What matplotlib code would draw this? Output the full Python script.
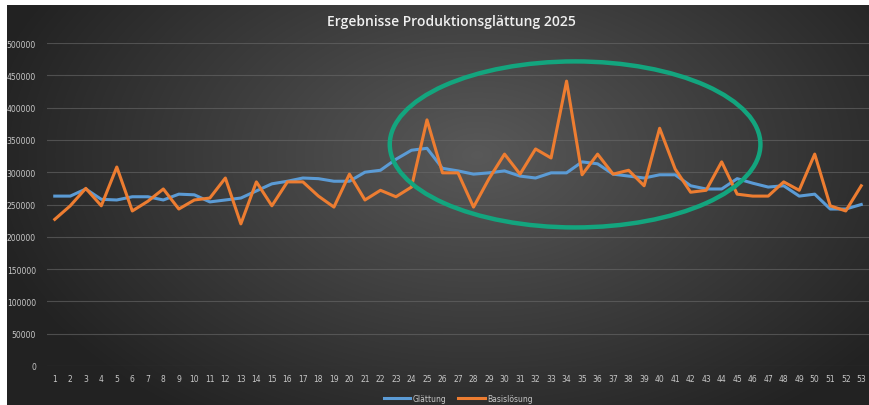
import numpy as np
import matplotlib.pyplot as plt
from matplotlib.patches import Ellipse

weeks = list(range(1, 54))

glaettung = [263000, 263000, 274000, 258000, 257000, 262000, 262000, 257000, 266000, 265000,
             254000, 257000, 260000, 271000, 282000, 286000, 291000, 290000, 286000, 286000,
             300000, 303000, 320000, 334000, 337000, 306000, 302000, 297000, 299000, 302000,
             294000, 291000, 299000, 299000, 316000, 313000, 297000, 294000, 291000, 296000,
             296000, 279000, 274000, 274000, 290000, 283000, 277000, 279000, 263000, 266000,
             243000, 243000, 250000]

basis = [227000, 248000, 275000, 248000, 308000, 240000, 255000, 274000, 243000, 257000,
         260000, 291000, 220000, 285000, 248000, 285000, 285000, 263000, 246000, 297000,
         257000, 272000, 262000, 277000, 381000, 299000, 299000, 246000, 290000, 328000,
         297000, 336000, 322000, 441000, 296000, 328000, 297000, 303000, 279000, 368000,
         305000, 269000, 272000, 316000, 266000, 263000, 263000, 285000, 272000, 328000,
         248000, 240000, 279000]

yticks = list(range(0, 500001, 50000))

fig = plt.figure(figsize=(8.69, 4.06), dpi=100, facecolor='white')

# dark radial gradient background (white strip only at top and left)
bg = fig.add_axes([0.008, -0.01, 1.0, 0.995])
yy, xx = np.mgrid[0:404, 0:869]
r = np.sqrt(((xx - 470) / 520.0) ** 2 + ((yy - 150) / 330.0) ** 2)
shade = np.clip(0.35 - 0.22 * r, 0.14, 0.35)
bg.imshow(shade, cmap='gray', vmin=0, vmax=1, aspect='auto')
bg.axis('off')

ax = fig.add_axes([47 / 869, 39 / 406, 822 / 869, 323 / 406])
ax.set_facecolor('none')
ax.plot(weeks, glaettung, color='#5B9BD5', lw=2.2, label='Glättung', zorder=3)
ax.plot(weeks, basis, color='#ED7D31', lw=2.2, label='Basislösung', zorder=4)

ell = Ellipse((34.55, 343000), 23.9, 257000, fill=False, edgecolor='#13A57E', lw=3.2, zorder=5)
ax.add_patch(ell)

ax.set_xlim(0.5, 53.5)
ax.set_ylim(0, 500000)
ax.set_yticks(yticks)
ax.set_yticklabels([str(v) for v in yticks])
ax.set_xticks(weeks)
ax.grid(axis='y', color='#6a6a6a', lw=0.8, alpha=0.6)
ax.set_axisbelow(True)
for s in ax.spines.values():
    s.set_visible(False)
ax.tick_params(length=0, colors='#c8c8c8', labelsize=5.5)
ax.tick_params(axis='y', pad=8)
ax.tick_params(axis='x', pad=6)

fig.text(0.52, 0.945, 'Ergebnisse Produktionsglättung 2025', ha='center', va='center',
         color='#f0f0f0', fontsize=10, fontfamily='Open Sans', fontweight='semibold')

leg = ax.legend(loc='upper center', bbox_to_anchor=(0.5, -0.065), ncol=2, frameon=False,
                fontsize=5.5, handlelength=3.5, columnspacing=1.5, handletextpad=0.3)
for t in leg.get_texts():
    t.set_color('#c8c8c8')

fig.savefig('out.png', dpi=100, facecolor='white')
